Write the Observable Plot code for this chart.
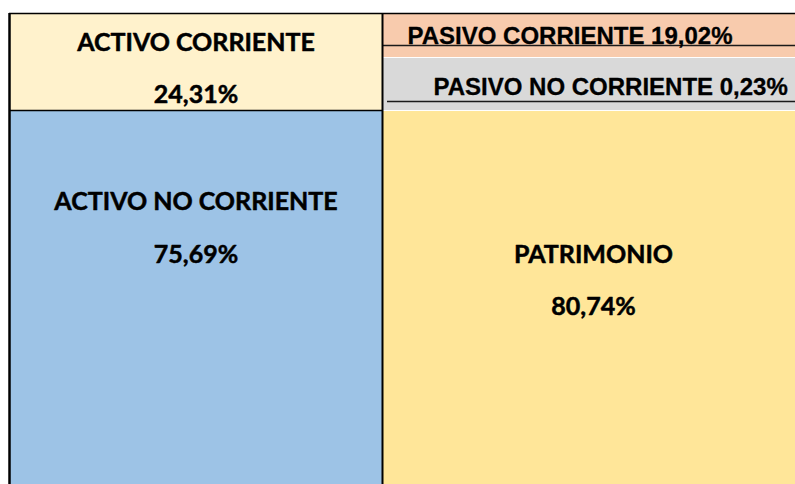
<!DOCTYPE html>
<html>
<head>
<meta charset="utf-8">
<script src="https://cdn.jsdelivr.net/npm/d3@7"></script>
<script src="https://cdn.jsdelivr.net/npm/@observablehq/plot@0.6"></script>
<style>
  html, body { margin: 0; padding: 0; background: #ffffff; overflow: hidden; }
  #chart svg { display: block; }
</style>
</head>
<body>
<div id="chart"></div>
<script>
// ---- Data ----
const cuentas = ["ACTIVO CORRIENTE", "ACTIVO NO CORRIENTE", "PASIVO CORRIENTE", "PASIVO NO CORRIENTE", "PATRIMONIO"];
const grupos = ["ACTIVO", "ACTIVO", "PASIVO", "PASIVO", "PASIVO"];
const porcentajes = [24.31, 75.69, 19.02, 0.23, 80.74];

const fmt = v => v.toFixed(2).replace(".", ",") + "%";

// ---- Layout of the schematic (layout units, not data) ----
const layout = {
  "ACTIVO CORRIENTE":    {x1: 0,   x2: 373, y1: 0,  y2: 97,  fill: "#FFF2CC", mode: "two",  lx: 186.5, ty: 37,  vy: 89},
  "ACTIVO NO CORRIENTE": {x1: 0,   x2: 373, y1: 97, y2: 471, fill: "#9DC3E6", mode: "two",  lx: 186.5, ty: 196, vy: 249},
  "PASIVO CORRIENTE":    {x1: 373, x2: 786, y1: 0,  y2: 44,  fill: "#F8CBAD", mode: "one",  lx: 398,   ty: 30,  uy: 32, ux: 374},
  "PASIVO NO CORRIENTE": {x1: 373, x2: 786, y1: 44, y2: 97,  fill: "#D9D9D9", mode: "one",  lx: 424,   ty: 81,  uy: 88, ux: 378},
  "PATRIMONIO":          {x1: 373, x2: 786, y1: 97, y2: 471, fill: "#FFE699", mode: "two",  lx: 584,   ty: 249, vy: 301}
};

const rows = cuentas.map((c, i) => ({cuenta: c, grupo: grupos[i], valor: porcentajes[i], ...layout[c]}));
const twoLine = rows.filter(d => d.mode === "two");
const oneLine = rows.filter(d => d.mode === "one");

const calibriLike = "Lato, 'Open Sans', sans-serif";
const arialLike = "'Liberation Sans', Arial, sans-serif";

const chart = Plot.plot({
  width: 795,
  height: 484,
  marginTop: 13,
  marginLeft: 9,
  marginRight: 0,
  marginBottom: 0,
  x: {type: "linear", domain: [0, 786], axis: null},
  y: {type: "linear", domain: [0, 471], reverse: true, axis: null},
  style: {background: "#ffffff", overflow: "visible"},
  marks: [
    Plot.rect(rows, {x1: "x1", x2: "x2", y1: "y1", y2: "y2", fill: "fill"}),
    // thin white separators between the right-hand blocks
    Plot.ruleY(rows.filter(d => d.grupo === "PASIVO" && d.y1 > 0), {y: "y1", x1: "x1", x2: "x2", stroke: "#ffffff", strokeWidth: 1}),
    // underlines in the liability boxes
    Plot.ruleY(oneLine, {y: "uy", x1: "ux", x2: "x2", stroke: "#1a1a1a", strokeWidth: 1.5}),
    // borders
    Plot.ruleY([0], {x1: 0, x2: 786, stroke: "#000", strokeWidth: 1.5}),
    Plot.ruleY(rows.filter(d => d.grupo === "ACTIVO" && d.y1 > 0), {y: "y1", x1: "x1", x2: "x2", stroke: "#000", strokeWidth: 1.5}),
    Plot.ruleX([0], {y1: 0, y2: 471, stroke: "#000", strokeWidth: 2.5}),
    Plot.ruleX([373], {y1: 0, y2: 471, stroke: "#000", strokeWidth: 2}),
    // two-line labels (title + percentage)
    Plot.text(twoLine, {x: "lx", y: "ty", text: "cuenta", textAnchor: "middle", lineAnchor: "bottom",
      fontFamily: calibriLike, fontWeight: "bold", fontSize: 25, fill: "#000", stroke: "#000", strokeWidth: 0.5}),
    Plot.text(twoLine, {x: "lx", y: "vy", text: d => fmt(d.valor), textAnchor: "middle", lineAnchor: "bottom",
      fontFamily: calibriLike, fontWeight: "bold", fontSize: 25, fill: "#000", stroke: "#000", strokeWidth: 0.5}),
    // single-line labels
    Plot.text(oneLine, {x: "lx", y: "ty", text: d => `${d.cuenta} ${fmt(d.valor)}`, textAnchor: "start", lineAnchor: "bottom",
      fontFamily: arialLike, fontWeight: "bold", fontSize: 24, fill: "#000", stroke: "#000", strokeWidth: 0.3})
  ]
});

document.getElementById("chart").appendChild(chart);
</script>
</body>
</html>
